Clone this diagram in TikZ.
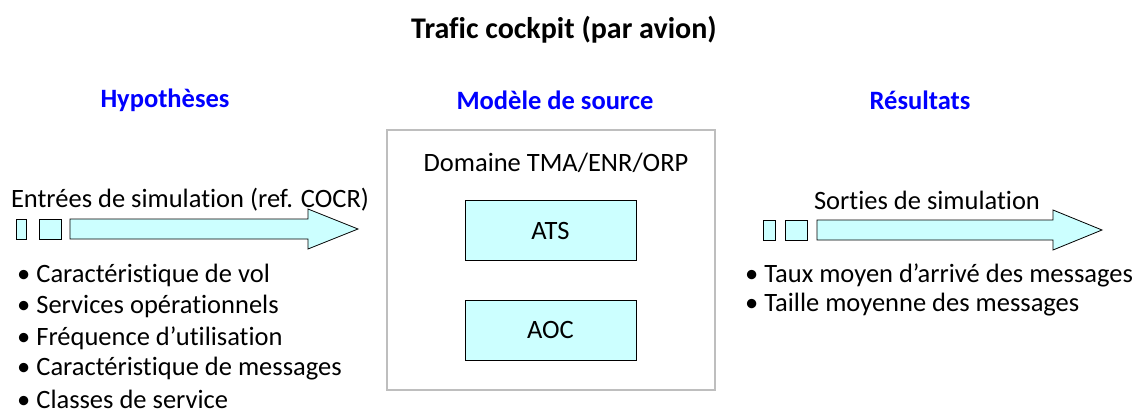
\documentclass[tikz,border=0pt]{standalone}
\usepackage{fontspec}
\setmainfont{Carlito}[Ligatures=NoCommon]
\usepackage{tikz}
\usetikzlibrary{positioning}
\usepackage{xcolor}
\definecolor{boxcyan}{RGB}{204, 255, 255}
\definecolor{headblue}{RGB}{0, 0, 255}
\definecolor{framegray}{RGB}{190, 190, 190}
\definecolor{textdark}{RGB}{0, 0, 0}

\begin{document}
\begin{tikzpicture}[
    x=1pt, y=-1pt,
    txt/.style={font=\fontsize{26.5}{30}\selectfont, text=textdark, inner sep=0pt},
    head/.style={txt, font=\fontsize{26.5}{30}\selectfont\bfseries, text=headblue},
    block/.style={rectangle, draw=textdark, fill=boxcyan, line width=0.8pt, minimum width=171pt, minimum height=60pt, font=\fontsize{26.5}{30}\selectfont},
    chip/.style={rectangle, draw=textdark, fill=boxcyan, line width=0.8pt, inner sep=0pt, minimum height=20pt},
    bigarrow/.style={draw=textdark, fill=boxcyan, line width=0.8pt},
    item/.style={txt, anchor=west},
]
\useasboundingbox (0,0) rectangle (1139,415);

% Title
\node[txt, font=\fontsize{30}{34}\selectfont\bfseries] (title) at (564, 30) {Trafic cockpit (par avion)};

% Column heads
\node[head] (hyp) at (165, 100) {Hypothèses};
\node[head] (model) at (555, 100) {Modèle de source};
\node[head] (res) at (920, 100) {Résultats};

% Source model
\node[rectangle, draw=framegray, line width=1.2pt, minimum width=328pt, minimum height=260pt] (frame) at (551, 260) {};
\node[txt] (domain) at (556, 163) {Domaine TMA/ENR/ORP};
\node[block] (ats) at (550.5, 230.5) {ATS};
\node[block] (aoc) at (550.5, 330) {AOC};

% Inputs
\node[txt] (inlabel) at (190, 200) {Entrées de simulation (ref. COCR)};
\node[chip, minimum width=10pt] (in1) at (21, 229) {};
\node[chip, minimum width=22pt] (in2) at (50, 229) {};
\draw[bigarrow] (70, 219) -- (308, 219) -- (308, 209) -- (358, 229) -- (308, 249) -- (308, 239) -- (70, 239) -- cycle;

\node[item] (hyp1) at (17, 275) {• Caractéristique de vol};
\node[item] (hyp2) at (17, 306) {• Services opérationnels};
\node[item] (hyp3) at (17, 338) {• Fréquence d’utilisation};
\node[item] (hyp4) at (17, 369) {• Caractéristique de messages};
\node[item] (hyp5) at (17, 399) {• Classes de service};

% Outputs
\node[txt] (outlabel) at (927, 200) {Sorties de simulation};
\node[chip, minimum width=12pt] (out1) at (769, 230) {};
\node[chip, minimum width=22pt] (out2) at (796, 230) {};
\draw[bigarrow] (817, 220) -- (1053, 220) -- (1053, 210) -- (1102, 230) -- (1053, 250) -- (1053, 240) -- (817, 240) -- cycle;

\node[item] (res1) at (745, 275) {• Taux moyen d’arrivé des messages};
\node[item] (res2) at (745, 305) {• Taille moyenne des messages};

\end{tikzpicture}
\end{document}
